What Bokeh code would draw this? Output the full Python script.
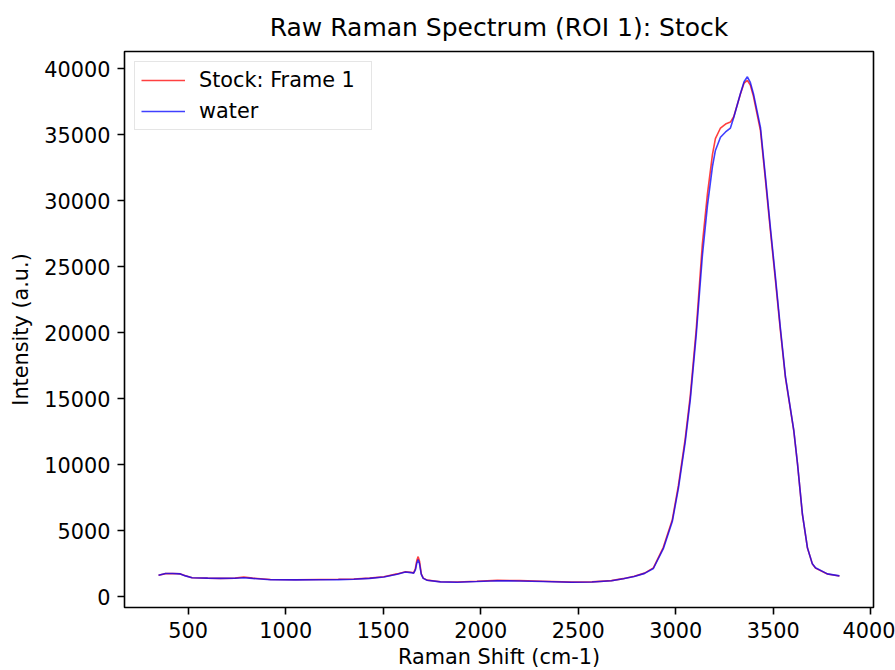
from bokeh.plotting import figure
from bokeh.models import Range1d, FixedTicker, Legend, LegendItem
from bokeh.embed import file_html
from bokeh.resources import INLINE

# Raman shift (cm-1)
shift = [348, 384, 420, 460, 486, 520, 600, 666, 740, 785, 830, 922, 1050, 1178, 1270,
         1349, 1430, 1503, 1571, 1614, 1640, 1656, 1665, 1672, 1679, 1686, 1695, 1705,
         1725, 1793, 1880, 1980, 2085, 2200, 2319, 2465, 2570, 2670, 2730, 2787, 2840,
         2885, 2936, 2982, 3013, 3048, 3074, 3105, 3136, 3162, 3188, 3203, 3229, 3255,
         3280, 3297, 3331, 3350, 3367, 3382, 3398, 3434, 3460, 3485, 3511, 3536, 3562,
         3585, 3605, 3624, 3649, 3675, 3700, 3716, 3777, 3839]

stock_frame1 = [1640, 1760, 1775, 1740, 1600, 1450, 1420, 1400, 1420, 1500, 1420, 1320, 1300,
                1320, 1330, 1360, 1420, 1530, 1740, 1900, 1860, 1820, 2150, 2750, 3050, 2700,
                1750, 1420, 1270, 1150, 1130, 1180, 1250, 1230, 1180, 1120, 1140, 1230, 1380,
                1560, 1800, 2200, 3750, 5850, 8400, 11950, 15200, 20300, 26700, 30500, 33500,
                34700, 35500, 35800, 35950, 36350, 38050, 38900, 39100, 38750, 37900, 35300,
                31500, 27700, 23950, 20200, 16600, 14450, 12550, 10050, 6250, 3700, 2500, 2180,
                1730, 1580]

water = [1640, 1770, 1775, 1740, 1590, 1450, 1420, 1400, 1410, 1450, 1400, 1300, 1290,
         1300, 1310, 1340, 1400, 1510, 1710, 1880, 1840, 1800, 2050, 2550, 2820, 2500,
         1700, 1400, 1260, 1140, 1110, 1160, 1220, 1200, 1160, 1110, 1130, 1220, 1370,
         1540, 1780, 2150, 3650, 5700, 8200, 11700, 14900, 19900, 25800, 29600, 32600,
         33800, 34800, 35200, 35500, 36300, 38100, 39000, 39380, 38950, 38100, 35550,
         31750, 27950, 24170, 20380, 16700, 14500, 12600, 10080, 6290, 3710, 2500, 2200,
         1740, 1590]

series_labels = ["Stock: Frame 1", "water"]
x_ticks = [500, 1000, 1500, 2000, 2500, 3000, 3500, 4000]
y_ticks = [0, 5000, 10000, 15000, 20000, 25000, 30000, 35000, 40000]

FONT = "DejaVu Sans"

xmin, xmax = min(shift), max(shift)
allv = stock_frame1 + water
ymin, ymax = min(allv), max(allv)
xp = (xmax - xmin) * 0.05
yp = (ymax - ymin) * 0.05

p = figure(frame_width=749, frame_height=556, output_backend="svg", toolbar_location=None,
           x_range=Range1d(xmin - xp, xmax + xp), y_range=Range1d(ymin - yp, ymax + yp),
           title="Raw Raman Spectrum (ROI 1): Stock",
           min_border_left=124, min_border_right=22, min_border_top=51, min_border_bottom=63)

p.title.text_font = FONT
p.title.text_font_size = "25px"
p.title.text_font_style = "normal"
p.title.align = "center"
p.title.text_color = "black"
p.title.standoff = 19

p.xgrid.visible = False
p.ygrid.visible = False
p.outline_line_color = "black"
p.outline_line_alpha = 1.0
p.outline_line_width = 1.6
p.background_fill_color = "white"
p.border_fill_color = "white"

for ax, ticks in ((p.xaxis[0], x_ticks), (p.yaxis[0], y_ticks)):
    ax.ticker = FixedTicker(ticks=ticks)
    ax.axis_line_color = None
    ax.major_tick_line_color = "black"
    ax.major_tick_line_width = 1.6
    ax.major_tick_out = 7
    ax.major_tick_in = 0
    ax.minor_tick_line_color = None
    ax.major_label_text_font = FONT
    ax.major_label_text_font_size = "20.8px"
    ax.major_label_text_color = "black"
    ax.major_label_standoff = 7
    ax.axis_label_text_font = FONT
    ax.axis_label_text_font_size = "20.8px"
    ax.axis_label_text_font_style = "normal"
    ax.axis_label_text_color = "black"

p.xaxis[0].axis_label = "Raman Shift (cm-1)"
p.yaxis[0].axis_label = "Intensity (a.u.)"
p.xaxis[0].axis_label_standoff = 4
p.yaxis[0].axis_label_standoff = 8
p.yaxis[0].major_label_orientation = "horizontal"

r1 = p.line(shift, stock_frame1, line_color="red", line_width=1.6, line_alpha=0.75)
r2 = p.line(shift, water, line_color="blue", line_width=1.6, line_alpha=0.75)

legend = Legend(items=[LegendItem(label=series_labels[0], renderers=[r1]),
                       LegendItem(label=series_labels[1], renderers=[r2])],
                location="top_left", margin=10, padding=6, spacing=7,
                glyph_width=44, glyph_height=24, label_height=24, label_standoff=14,
                label_width=166,
                label_text_font=FONT, label_text_font_size="20.8px", label_text_color="black",
                border_line_color="#cccccc", border_line_width=1.5,
                background_fill_color="white", background_fill_alpha=0.8)
p.add_layout(legend)

open("out.html", "w").write(file_html(p, INLINE))
